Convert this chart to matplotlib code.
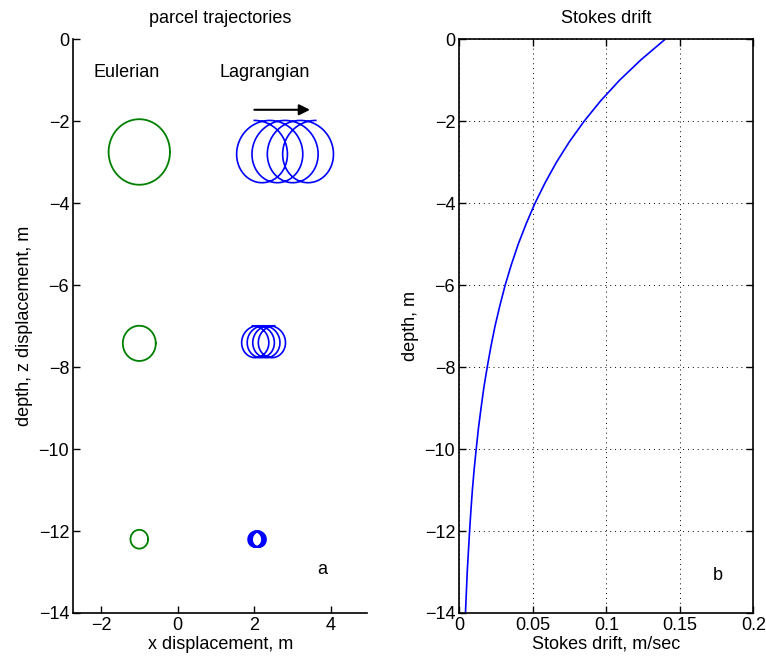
# parcel trajectories (Eulerian vs Lagrangian) and Stokes drift profile

import matplotlib.pyplot as plt
import numpy as np

plt.rcParams["font.family"] = ["Liberation Sans", "DejaVu Sans"]
plt.rcParams["font.size"] = 13

# Eulerian circles: centre x, centre depth, radius (m)
eul_x = [-1.0, -1.0, -1.0]
eul_z = [-2.75, -7.42, -12.2]
eul_r = [0.80, 0.43, 0.23]

# Lagrangian loops: start x, centre depth, radius, drift per loop (m), loops
lag_x = [2.0, 1.95, 2.0]
lag_z = [-2.74, -7.38, -12.2]
lag_r = [0.76, 0.39, 0.19]
lag_d = [0.40, 0.145, 0.035]
n_loops = 4

# Stokes drift profile
depth = [0, -0.5, -1, -1.5, -2, -2.5, -3, -3.5, -4, -4.5, -5, -5.5, -6, -6.5, -7,
         -7.5, -8, -8.5, -9, -9.5, -10, -10.5, -11, -11.5, -12, -12.5, -13, -13.5, -14]
drift = [0.1400, 0.1236, 0.1090, 0.0962, 0.0849, 0.0749, 0.0661, 0.0584, 0.0515,
         0.0455, 0.0401, 0.0354, 0.0312, 0.0276, 0.0243, 0.0215, 0.0190, 0.0167,
         0.0148, 0.0130, 0.0115, 0.0101, 0.0089, 0.0079, 0.0070, 0.0062, 0.0054,
         0.0048, 0.0042]

fig = plt.figure(figsize=(7.66, 6.66), dpi=100)
ax1 = fig.add_axes([0.0957, 0.0796, 0.3836, 0.8614])
ax2 = fig.add_axes([0.5996, 0.0796, 0.3838, 0.8614])

# --- panel a
th = np.linspace(0, 2 * np.pi, 200)
for xc, zc, r in zip(eul_x, eul_z, eul_r):
    ax1.plot(xc + r * np.cos(th), zc + r * np.sin(th), color="#008000", lw=1.3)

ph = np.linspace(0, 2 * np.pi * n_loops, 800)
for x0, zc, r, d in zip(lag_x, lag_z, lag_r, lag_d):
    ax1.plot(x0 + r * np.sin(ph) + d * ph / (2 * np.pi), zc + r * np.cos(ph),
             color="#0000ff", lw=1.2)

ax1.annotate("", xy=(3.45, -1.72), xytext=(2.0, -1.72),
             arrowprops=dict(arrowstyle="-|>", color="k", lw=1.5,
                             mutation_scale=16, shrinkA=0, shrinkB=0))
ax1.text(-1.33, -0.8, "Eulerian", ha="center", va="center")
ax1.text(2.27, -0.8, "Lagrangian", ha="center", va="center")
ax1.text(3.78, -12.94, "a", ha="center", va="center")

ax1.set_xlim(-2.72, 4.94)
ax1.set_ylim(-14, 0)
ax1.set_xticks([-2, 0, 2, 4])
ax1.set_yticks(range(-14, 1, 2))
ax1.spines["top"].set_visible(False)
ax1.spines["right"].set_visible(False)
ax1.set_title("parcel trajectories", fontsize=13, pad=12)
ax1.set_xlabel("x displacement, m", labelpad=1)
ax1.set_ylabel("depth, z displacement, m", labelpad=4)

# --- panel b
ax2.plot(drift, depth, color="#0000ff", lw=1.2)
ax2.text(0.176, -13.09, "b", ha="center", va="center")
ax2.set_xlim(0, 0.2)
ax2.set_ylim(-14, 0)
ax2.set_xticks([0, 0.05, 0.1, 0.15, 0.2])
ax2.set_xticklabels(["0", "0.05", "0.1", "0.15", "0.2"])
ax2.set_yticks(range(-14, 1, 2))
ax2.grid(True, color="k", linestyle=(0, (1, 4)), lw=0.7)
ax2.tick_params(top=True, right=True)
ax2.set_title("Stokes drift", fontsize=13, pad=12)
ax2.set_xlabel("Stokes drift, m/sec", labelpad=1)
ax2.set_ylabel("depth, m", labelpad=4)

for ax in (ax1, ax2):
    ax.tick_params(direction="in", length=5, width=1.0, pad=3)
    for s in ax.spines.values():
        s.set_linewidth(1.2)

fig.savefig("out.png", dpi=100)
